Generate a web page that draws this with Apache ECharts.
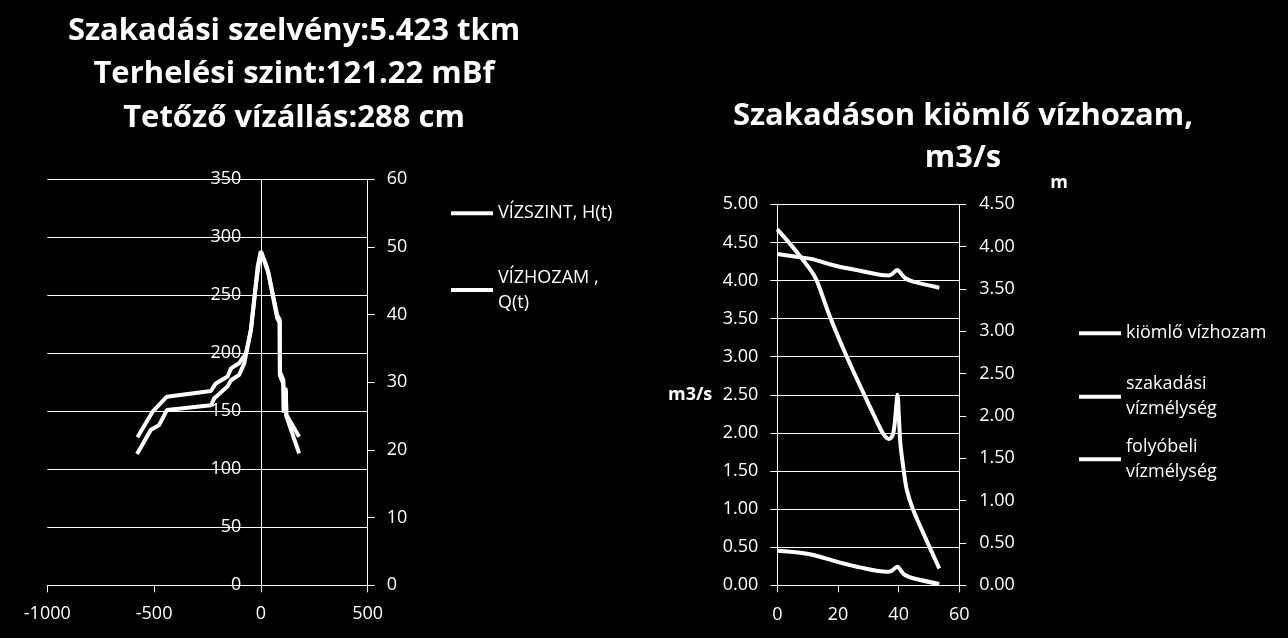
<!DOCTYPE html>
<html><head><meta charset="utf-8">
<script src="https://cdn.jsdelivr.net/npm/echarts@6/dist/echarts.min.js"></script>
<style>html,body{margin:0;padding:0;background:#000;}#c{width:1288px;height:638px;}</style>
</head><body><div id="c"></div>
<script>
// ---- Left chart: stage & discharge hydrograph ----
const hTime  = [-578, -507, -440, -234, -211, -156, -140, -102, -70, -47, -30, -15, 0, 28, 35, 76, 88, 89, 105, 107, 114, 117, 119, 179];
const hLevel = [127.6, 149.7, 162.6, 167.5, 174, 180, 187, 191.4, 200, 220, 248, 275, 288, 273, 269, 233, 229, 184, 177, 151, 170, 168, 147, 128];
const qTimeL = [-580, -515, -476, -440, -234, -219, -156, -140, -102, -78, -62, -47, -25, -10, 0, 28, 35, 76, 88, 89, 105, 107, 114, 117, 119, 179];
const qFlowL = [19.4, 23.0, 23.7, 25.9, 26.6, 27.6, 29.4, 30.3, 31.1, 32.8, 35.3, 37.7, 44.0, 47.5, 49.3, 47.0, 46.2, 39.5, 38.8, 31.0, 29.8, 25.5, 28.8, 28.4, 25.0, 19.5];
const leftXTicks = [-1000, -500, 0, 500];

// ---- Right chart: breach outflow and depths ----
const outTime = [0, 4, 7.5, 11.3, 13, 17.4, 22.9, 29.5, 32, 34.9, 36.9, 38.2, 39.0, 39.6, 40.1, 40.6, 41.5, 42.7, 44.8, 49.2, 53.4];
const outFlow = [4.67, 4.49, 4.32, 4.12, 4.00, 3.52, 3.00, 2.43, 2.22, 1.99, 1.92, 1.99, 2.25, 2.50, 2.20, 1.85, 1.56, 1.25, 0.99, 0.59, 0.22];
const rivTime = [0, 7.5, 11.9, 18.5, 27.2, 36.6, 37.6, 39.6, 40.8, 42.1, 44.8, 53.4];
const rivDepth = [3.913, 3.874, 3.85, 3.78, 3.716, 3.66, 3.67, 3.724, 3.68, 3.63, 3.586, 3.515];
const brTime = [0, 7.5, 11.9, 19.6, 27.2, 36.1, 37.4, 39.6, 40.8, 42.1, 44.8, 53.4];
const brDepth = [0.409, 0.385, 0.358, 0.279, 0.212, 0.161, 0.165, 0.22, 0.17, 0.122, 0.083, 0.015];

const names = {
  h: 'VÍZSZINT, H(t)', q: 'VÍZHOZAM , Q(t)',
  out: 'kiömlő vízhozam', br: 'szakadási vízmélység', riv: 'folyóbeli vízmélység'
};

const zip = (a, b) => a.map((t, i) => [t, b[i]]);
const FONT = 'Open Sans';
const W = '#ffffff';
const lbl = {color: W, fontSize: 18, fontFamily: FONT};
const lineStyleS = {color: W, width: 4};
const plain = v => String(v);

function legendItem(name, text, left, top, twoLine) {
  return {
    data: [{name: name, textStyle: twoLine ? {padding: [25, 0, 0, 0]} : {}}],
    left: left, top: top, padding: 0, orient: 'vertical',
    icon: 'rect', itemWidth: 42, itemHeight: 4, itemGap: 0,
    selectedMode: false,
    formatter: () => text,
    textStyle: {color: W, fontSize: 18, fontFamily: FONT, lineHeight: 25}
  };
}

const option = {
  backgroundColor: '#000',
  animation: false,
  title: [
    {text: 'Szakadási szelvény:5.423 tkm\nTerhelési szint:121.22 mBf\nTetőző vízállás:288 cm',
     left: 294, top: 9, textAlign: 'center', padding: 0,
     textStyle: {color: W, fontSize: 31, fontWeight: 'bold', fontFamily: FONT, lineHeight: 43.5}},
    {text: 'Szakadáson kiömlő vízhozam,\nm3/s',
     left: 963, top: 95, textAlign: 'center', padding: 0,
     textStyle: {color: W, fontSize: 31, fontWeight: 'bold', fontFamily: FONT, lineHeight: 42}}
  ],
  legend: [
    legendItem(names.h, 'VÍZSZINT, H(t)', 451, 200.8, false),
    legendItem(names.q, 'VÍZHOZAM ,\nQ(t)', 451, 252.5, true),
    legendItem(names.out, 'kiömlő vízhozam', 1079, 320.8, false),
    legendItem(names.br, 'szakadási\nvízmélység', 1079, 359.2, true),
    legendItem(names.riv, 'folyóbeli\nvízmélység', 1079, 421.8, true)
  ],
  grid: [
    {left: 47.3, top: 179.3, width: 320.4, height: 406, containLabel: false},
    {left: 777.3, top: 204.3, width: 182, height: 381, containLabel: false}
  ],
  xAxis: [
    {type: 'value', gridIndex: 0, min: leftXTicks[0], max: leftXTicks[leftXTicks.length - 1], interval: 500,
     axisLine: {show: true, onZero: false, lineStyle: {color: W, width: 1}},
     axisTick: {show: true, length: 7, lineStyle: {color: W}},
     axisLabel: Object.assign({margin: 20, formatter: plain}, lbl), splitLine: {show: false}},
    {type: 'value', gridIndex: 1, min: 0, max: 60, interval: 20,
     axisLine: {show: true, onZero: false, lineStyle: {color: W, width: 1}},
     axisTick: {show: true, length: 7, lineStyle: {color: W}},
     axisLabel: Object.assign({margin: 21, formatter: plain}, lbl), splitLine: {show: false}}
  ],
  yAxis: [
    {type: 'value', gridIndex: 0, min: 0, max: 350, interval: 50,
     axisLine: {show: true, onZero: true, lineStyle: {color: W, width: 1}},
     axisTick: {show: false},
     axisLabel: Object.assign({margin: -194, formatter: plain}, lbl),
     splitLine: {show: true, lineStyle: {color: W, width: 1}}},
    {type: 'value', gridIndex: 0, position: 'right', min: 0, max: 60, interval: 10,
     axisLine: {show: true, onZero: false, lineStyle: {color: W, width: 1}},
     axisTick: {show: true, length: 7, lineStyle: {color: W}},
     axisLabel: Object.assign({margin: 19, formatter: plain}, lbl), splitLine: {show: false}},
    {type: 'value', gridIndex: 1, position: 'left', min: 0, max: 5, interval: 0.5,
     name: 'm3/s', nameLocation: 'middle', nameRotate: 0, nameGap: 65,
     nameTextStyle: {color: W, fontSize: 18, fontWeight: 'bold', fontFamily: FONT},
     axisLine: {show: true, onZero: false, lineStyle: {color: W, width: 1}},
     axisTick: {show: true, length: 7, lineStyle: {color: W}},
     axisLabel: Object.assign({margin: 19, formatter: v => v.toFixed(2)}, lbl),
     splitLine: {show: true, lineStyle: {color: W, width: 1}}},
    {type: 'value', gridIndex: 1, position: 'right', min: 0, max: 4.5, interval: 0.5,
     name: 'm', nameLocation: 'end', nameGap: 12,
     nameTextStyle: {color: W, fontSize: 18, fontWeight: 'bold', fontFamily: FONT, align: 'left', padding: [0, 0, 0, 91]},
     axisLine: {show: true, onZero: false, lineStyle: {color: W, width: 1}},
     axisTick: {show: true, length: 7, lineStyle: {color: W}},
     axisLabel: Object.assign({margin: 20, formatter: v => v.toFixed(2)}, lbl),
     splitLine: {show: false}}
  ],
  series: [
    {name: names.h, type: 'line', xAxisIndex: 0, yAxisIndex: 0, data: zip(hTime, hLevel),
     showSymbol: false, lineStyle: lineStyleS, itemStyle: {color: W}},
    {name: names.q, type: 'line', xAxisIndex: 0, yAxisIndex: 1, data: zip(qTimeL, qFlowL),
     showSymbol: false, lineStyle: lineStyleS, itemStyle: {color: W}},
    {name: names.out, type: 'line', xAxisIndex: 1, yAxisIndex: 2, data: zip(outTime, outFlow),
     showSymbol: false, smooth: 0.35, lineStyle: lineStyleS, itemStyle: {color: W}},
    {name: names.br, type: 'line', xAxisIndex: 1, yAxisIndex: 3, data: zip(brTime, brDepth),
     showSymbol: false, smooth: 0.35, lineStyle: lineStyleS, itemStyle: {color: W}},
    {name: names.riv, type: 'line', xAxisIndex: 1, yAxisIndex: 3, data: zip(rivTime, rivDepth),
     showSymbol: false, smooth: 0.35, lineStyle: lineStyleS, itemStyle: {color: W}}
  ]
};
const chart = echarts.init(document.getElementById('c'), null, {renderer: 'canvas'});
chart.setOption(option);
</script></body></html>
